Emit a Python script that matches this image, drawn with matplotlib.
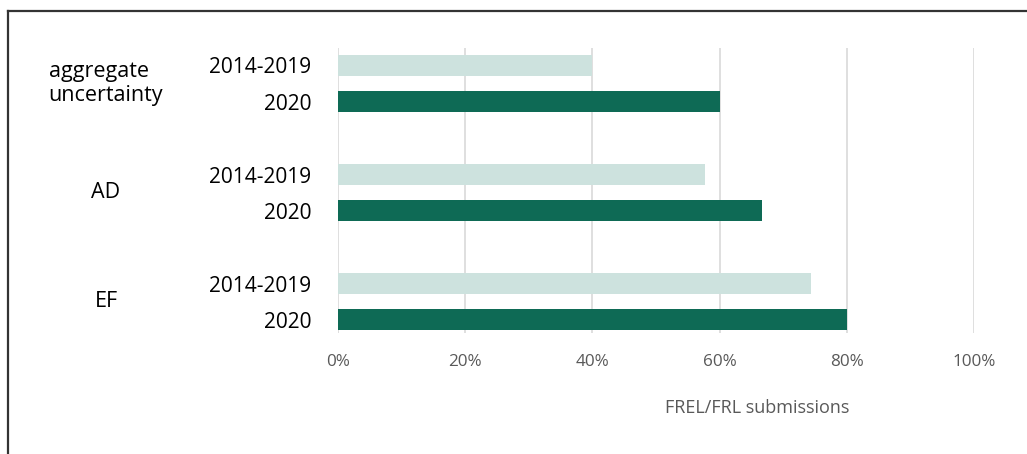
from matplotlib import pyplot as plt
from matplotlib import transforms
from matplotlib.lines import Line2D
import numpy as np

#----------------------------------------------------
groups = ['aggregate\nuncertainty', 'AD', 'EF']
periods = ['2014-2019', '2020']
share_2014_2019 = [0.40, 0.577, 0.743]
share_2020 = [0.60, 0.667, 0.80]
xticks = [0, 0.2, 0.4, 0.6, 0.8, 1.0]
xticklabels = ['0%', '20%', '40%', '60%', '80%', '100%']

light = '#cde2de'
dark = '#0e6a55'
grey = '#595959'
plt.rcParams['font.family'] = ['Open Sans', 'DejaVu Sans']
#----------------------------------------------------

fig = plt.figure(figsize=(10.27, 4.54), dpi=100)
ax = fig.add_axes([338/1027, 1-333/454, (974-338)/1027, (333-48)/454])

pos = np.arange(len(groups)) * 3
ax.barh(pos, share_2014_2019, height=0.58, color=light, zorder=2)
ax.barh(pos + 1, share_2020, height=0.58, color=dark, zorder=2)

ticks = np.concatenate([[p, p + 1] for p in pos])
ax.set_yticks(ticks)
ax.set_yticklabels(periods * len(groups), fontsize=15, color='black')
ax.tick_params(axis='y', length=0, pad=19)

ax.set_xlim(0, 1)
ax.set_ylim(7.36, -0.48)
ax.set_xticks(xticks)
ax.set_xticklabels(xticklabels, fontsize=12.3, color=grey)
ax.tick_params(axis='x', length=0, pad=15)
ax.grid(axis='x', color='#d9d9d9', linewidth=1.2, zorder=0)
for s in ax.spines.values():
    s.set_visible(False)

# group names on the far left
trans = transforms.blended_transform_factory(fig.transFigure, ax.transData)
for p, g in zip(pos, groups):
    ax.text(106/1027, p + 0.5, g, transform=trans, ha='center', va='center',
            multialignment='left', fontsize=15.5, linespacing=1.2)

fig.text(757/1027, 1-408/454, 'FREL/FRL submissions', ha='center', va='center',
         fontsize=13, color=grey)

# frame on left and top
fig.add_artist(Line2D([8/1027, 8/1027], [0, 1-10.5/454], transform=fig.transFigure,
                      color='#333333', linewidth=1.6))
fig.add_artist(Line2D([8/1027, 1], [1-10.5/454, 1-10.5/454], transform=fig.transFigure,
                      color='#333333', linewidth=1.6))

plt.savefig('out.png', dpi=100, facecolor='white')
